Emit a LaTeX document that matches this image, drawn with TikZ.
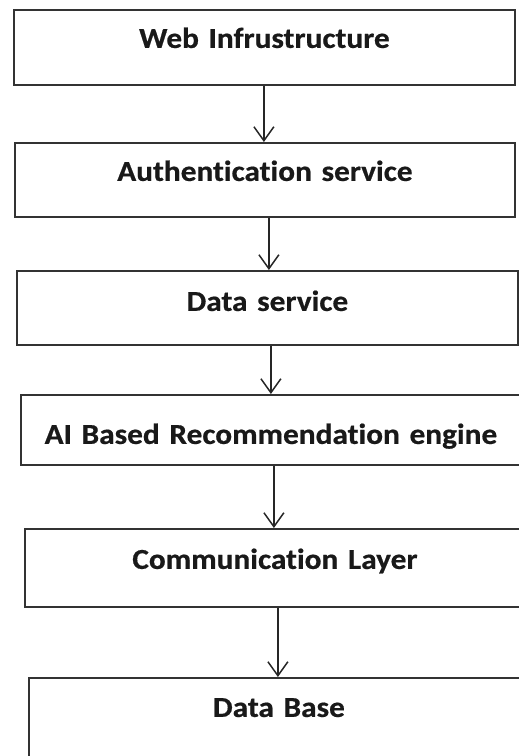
\documentclass[tikz,border=0pt]{standalone}
\usepackage{fontspec}
\setmainfont{Carlito}[Ligatures=NoCommon, BoldFeatures={FakeStretch=1.08, FakeBold=0.6}, WordSpace=0.85]
\usetikzlibrary{arrows.meta}
\begin{document}
\begin{tikzpicture}[x=1pt,y=-1pt,
  layerbox/.style={draw=black!80, line width=1.8pt, inner sep=0pt, anchor=north west,
    align=center, font=\fontsize{29}{34}\selectfont\bfseries, text=black!90},
  arr/.style={draw=black!85, line width=1.5pt, -{Straight Barb[length=14pt,width=20pt,line width=1.5pt]}}]
\useasboundingbox (0,0) rectangle (519,756);
\begin{scope}
\clip (0,0) rectangle (519,756);
\node[layerbox, text width=501pt, text height=38pt, text depth=37pt] (b1) at (13,9) {Web Infrustructure};
\node[layerbox, text width=500pt, text height=38pt, text depth=36pt] (b2) at (14,142) {Authentication service};
\node[layerbox, text width=501pt, text height=40pt, text depth=34pt] (b3) at (16,270) {Data service};
\node[layerbox, text width=500pt, text height=49pt, text depth=21pt] (b4) at (20,394) {AI Based Recommendation engine};
\node[layerbox, text width=500pt, text height=40pt, text depth=38pt] (b5) at (24,528) {Communication Layer};
\node[layerbox, text width=500pt, text height=39pt, text depth=60pt] (b6) at (28,677) {Data Base};
\draw[arr] ([xshift=-0.5pt]b1.south) -- ([xshift=-0.5pt]b1.south |- b2.north);
\draw[arr] ([xshift=4pt]b2.south) -- ([xshift=4pt]b2.south |- b3.north);
\draw[arr] ([xshift=3.5pt]b3.south) -- ([xshift=3.5pt]b3.south |- b4.north);
\draw[arr] ([xshift=3pt]b4.south) -- ([xshift=3pt]b4.south |- b5.north);
\draw[arr] ([xshift=3pt]b5.south) -- ([xshift=3pt]b5.south |- b6.north);
\end{scope}
\end{tikzpicture}
\end{document}
